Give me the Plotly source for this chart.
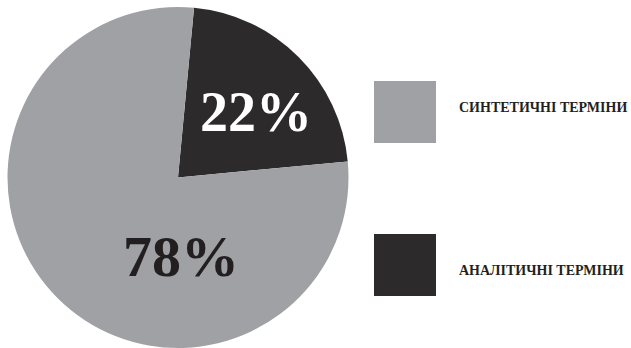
import plotly.graph_objects as go

labels = ["АНАЛІТИЧНІ ТЕРМІНИ", "СИНТЕТИЧНІ ТЕРМІНИ"]
values = [22, 78]
colors = ["#2c2a2b", "#a0a1a5"]
text_colors = ["#ffffff", "#231f20"]

W, H = 631, 348
FONT = "'Times New Roman', 'Liberation Serif', Times, serif"
total = sum(values)
pct = [f"{round(v * 100 / total)}%" for v in values]

fig = go.Figure()
fig.add_trace(go.Pie(
    labels=labels,
    values=values,
    marker=dict(colors=colors, line=dict(width=0)),
    sort=False,
    direction="clockwise",
    rotation=45 - values[0] / total * 180,
    textinfo="none",
    hoverinfo="label+percent",
    showlegend=False,
    domain=dict(x=[7.5 / W, 348.5 / W], y=[0, 0.98]),
))

# percentage labels
label_pos = [(256, 112), (181, 256)]
label_sizes = [56, 58]
for t, (px, py), c, s in zip(pct, label_pos, text_colors, label_sizes):
    fig.add_annotation(x=px / W, y=1 - py / H, xref="paper", yref="paper",
                       text=f"<b>{t}</b>", showarrow=False,
                       font=dict(family=FONT, size=s, color=c),
                       xanchor="center", yanchor="middle")

# custom legend (synthetic first, then analytic)
legend_order = [1, 0]
legend_y = [112, 265]
for idx, cy in zip(legend_order, legend_y):
    fig.add_shape(type="rect", xref="paper", yref="paper",
                  x0=374 / W, x1=436 / W, y0=1 - (cy - 31) / H, y1=1 - (cy + 31) / H,
                  fillcolor=colors[idx], line=dict(width=0))
    fig.add_annotation(x=457 / W, y=1 - (cy - 5 if idx == 1 else cy + 5) / H,
                       xref="paper", yref="paper",
                       text=f"<b>{labels[idx]}</b>", showarrow=False,
                       font=dict(family=FONT, size=14, color="#231f20"),
                       xanchor="left", yanchor="middle")

fig.update_layout(width=W, height=H, margin=dict(l=0, r=0, t=0, b=0),
                  paper_bgcolor="white", plot_bgcolor="white")
fig.write_html("out.html")
